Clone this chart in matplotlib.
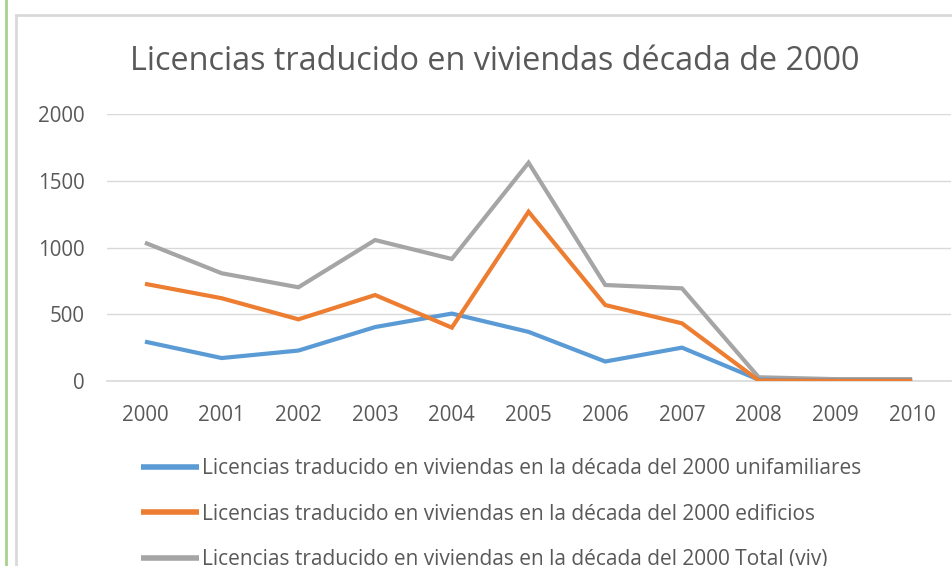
import matplotlib.pyplot as plt
from matplotlib.lines import Line2D
import numpy as np

years = ["2000", "2001", "2002", "2003", "2004", "2005",
         "2006", "2007", "2008", "2009", "2010"]
unifamiliares = [295, 172, 228, 404, 505, 368, 146, 250, 10, 5, 5]
edificios = [728, 620, 462, 644, 400, 1268, 569, 432, 4, 2, 2]
total = [1036, 807, 702, 1056, 914, 1635, 719, 694, 28, 14, 14]

labels = [
    "Licencias traducido en viviendas en la década del 2000 unifamiliares",
    "Licencias traducido en viviendas en la década del 2000 edificios",
    "Licencias traducido en viviendas en la década del 2000 Total (viv)",
]
colors = ["#5b9bd5", "#ed7d31", "#a5a5a5"]
text_color = "#595959"

plt.rcParams["font.family"] = ["Open Sans", "DejaVu Sans"]

W, H = 953, 566
fig = plt.figure(figsize=(W / 100, H / 100), dpi=100)
ax = fig.add_axes([106.6 / W, 1 - 381 / H, (950.5 - 106.6) / W, (381 - 114) / H])

x = np.arange(len(years))
# total drawn underneath the two component series
for series, color, label, z in zip([unifamiliares, edificios, total], colors, labels, [3, 4, 2]):
    ax.plot(x, series, color=color, lw=3.0, label=label, zorder=z,
            solid_joinstyle="miter", solid_capstyle="butt")

ax.set_xlim(-0.5, len(years) - 0.5)
ax.set_ylim(0, 2000)
ax.set_yticks([0, 500, 1000, 1500, 2000])
ax.set_xticks(x)
ax.set_xticklabels(years)
ax.grid(axis="y", color="#d9d9d9", lw=1)
ax.axhline(0, color="#d9d9d9", lw=1.2, zorder=1, clip_on=False)
ax.set_axisbelow(True)
for s in ax.spines.values():
    s.set_visible(False)
ax.tick_params(length=0, labelsize=14.8, labelcolor=text_color)
ax.tick_params(axis="x", pad=17)
ax.tick_params(axis="y", pad=16)

fig.text(495 / W, 1 - 62 / H, "Licencias traducido en viviendas década de 2000",
         ha="center", va="center", fontsize=23.3, color=text_color)

handles, lbls = ax.get_legend_handles_labels()
leg = fig.legend(handles, lbls, loc="upper left",
                 bbox_to_anchor=(133 / W, 1 - 450 / H), frameon=False,
                 fontsize=15, labelcolor=text_color, handlelength=2.75,
                 handletextpad=0.15, labelspacing=1.17, borderaxespad=0)
for h in leg.get_lines():
    h.set_linewidth(4)

# chart frame and outer page border
fig.add_artist(Line2D([6 / W, 6 / W], [0, 1], color="#a9d18e", lw=2))
fig.add_artist(Line2D([16 / W, 16 / W], [0, 1 - 15 / H], color="#d9d9d9", lw=2))
fig.add_artist(Line2D([16 / W, 1], [1 - 15 / H, 1 - 15 / H], color="#d9d9d9", lw=2))

fig.savefig("out.png", dpi=100)
